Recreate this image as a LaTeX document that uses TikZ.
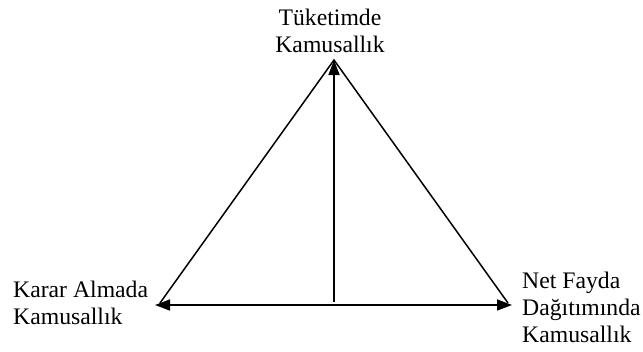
\documentclass[tikz,border=0pt]{standalone}
\usepackage{fontspec}
\setmainfont{Liberation Serif}
\usetikzlibrary{arrows.meta}
\begin{document}
\begin{tikzpicture}[x=1pt,y=-1pt,
    lbl/.style={font=\fontsize{23.7}{27}\selectfont, inner sep=0pt},
    side/.style={line width=1.5pt},
    tip/.tip={Triangle[length=15pt,width=11pt]},
    arr/.style={line width=1.5pt, -tip},
    twoarr/.style={line width=1.5pt, tip-tip}]
    \useasboundingbox (0,0) rectangle (643,351);
    % corners
    \coordinate (apex) at (334,60);
    \coordinate (left) at (160,303);
    \coordinate (right) at (508,303);
    \coordinate (leftend) at (155,305);
    \coordinate (rightend) at (512,305);
    \coordinate (foot) at (334,302);
    % labels
    \node (tuketim) [lbl, align=center, anchor=north] at (330,9) {Tüketimde\\Kamusallık};
    \node (karar) [lbl, align=left, anchor=north west] at (13,281) {Karar Almada\\Kamusallık};
    \node (fayda) [lbl, align=left, anchor=north west] at (522,272) {Net Fayda\\Dağıtımında\\Kamusallık};
    % triangle and arrows
    \draw (left) -- (apex) -- (right) [side];
    \draw (foot) -- (apex) [arr];
    \draw (leftend) -- (rightend) [twoarr];
\end{tikzpicture}
\end{document}
